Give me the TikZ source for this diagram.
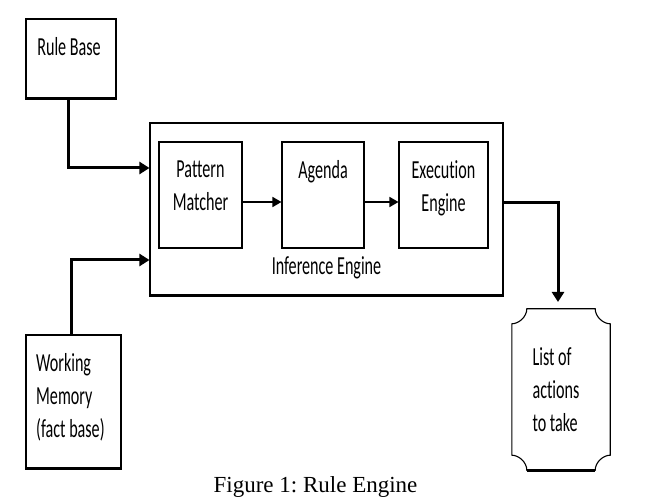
\documentclass[tikz,border=0pt]{standalone}
\usepackage{fontspec}
\setmainfont{Liberation Serif}
\newfontfamily\diafont[FakeStretch=0.62,Ligatures={NoCommon,NoContextual}]{Carlito}
\usetikzlibrary{arrows.meta}
\begin{document}
\begin{tikzpicture}[x=1pt,y=-1pt,
  box/.style={draw, line width=1.1pt, inner sep=0pt},
  heavy/.style={line width=2.6pt},
  medium/.style={line width=1.8pt},
  txt/.style={font=\diafont\fontsize{26}{33}\selectfont, inner sep=0pt},
  conn/.style={line width=3pt, -{Triangle[length=10pt,width=12pt]}},
  sconn/.style={line width=1.6pt, -{Triangle[length=9pt,width=10pt]}},
  captext/.style={font=\frenchspacing\fontsize{23}{26}\selectfont, inner sep=0pt}]
\useasboundingbox (0,0) rectangle (661,502);
% boxes
\node[box, minimum width=90pt, minimum height=79pt] (rb) at (71,58.5) {};
\node[box, minimum width=353pt, minimum height=172pt] (ie) at (326.5,209) {};
\node[box, minimum width=83pt, minimum height=106pt] (pm) at (200.5,195) {};
\node[box, minimum width=82pt, minimum height=106pt] (ag) at (323,195) {};
\node[box, minimum width=89pt, minimum height=106pt] (ex) at (443.5,195) {};
\node[box, minimum width=95pt, minimum height=133pt] (wm) at (73.5,401.5) {};
\node[inner sep=0pt, minimum width=98pt, minimum height=161pt] (la) at (561,389.5) {};
% thicker right/bottom edges
\draw[heavy] (rb.south west) -- (rb.south east);
\draw[medium] (rb.south east) -- (rb.north east);
\draw[heavy] (ie.south west) -- (ie.south east);
\draw[medium] (ie.south east) -- (ie.north east);
\draw[heavy] (wm.south west) -- (wm.south east);
\draw[medium] (wm.south east) -- (wm.north east);
\foreach \b in {pm,ag,ex}{\draw[medium] (\b.south west) -- (\b.south east);}
% list shape
\draw[line width=1.1pt] ([xshift=15pt]la.north west) -- ([xshift=-15pt]la.north east)
  .. controls ([xshift=-15pt,yshift=-8pt]la.north east) and ([xshift=-7pt,yshift=-15pt]la.north east) .. ([yshift=-15pt]la.north east)
  -- ([yshift=15pt]la.south east)
  .. controls ([xshift=-7pt,yshift=15pt]la.south east) and ([xshift=-15pt,yshift=8pt]la.south east) .. ([xshift=-15pt]la.south east)
  -- ([xshift=15pt]la.south west)
  .. controls ([xshift=15pt,yshift=8pt]la.south west) and ([xshift=7pt,yshift=15pt]la.south west) .. ([yshift=15pt]la.south west)
  -- ([yshift=-15pt]la.north west)
  .. controls ([xshift=7pt,yshift=-15pt]la.north west) and ([xshift=15pt,yshift=-8pt]la.north west) .. cycle;
\draw[heavy] ([xshift=15pt]la.south west) -- ([xshift=-15pt]la.south east);
% texts
\node[txt, anchor=north] (rbt) at (69,37) {Rule Base};
\node[txt, anchor=north, align=center] (pmt) at (200.5,161) {Pattern\\Matcher};
\node[txt, anchor=north] (agt) at (323,160) {Agenda};
\node[txt, anchor=north, align=center] (ext) at (443.5,160) {Execut\kern0pt ion\\Engine};
\node[txt] (iet) at (326.5,268) {Inference Engine};
\node[txt, anchor=north west, align=left] (wmt) at (36,353) {Working\\Memory\\(fact base)};
\node[txt, align=left] (lat) at (556,390) {List of\\act\kern0pt ions\\to take};
\node[captext] (caption) at (315.5,487) {Figure 1: Rule Engine};
% connectors
\draw[conn] ([xshift=-3pt]rb.south) |- ([yshift=41pt]ie.west);
\draw[conn] ([xshift=-2.5pt]wm.north) |- ([yshift=-51pt]ie.west);
\draw[sconn] (pm.east |- 0,202) -- (ag.west |- 0,202);
\draw[sconn] (ag.east |- 0,202) -- (ex.west |- 0,202);
\coordinate (lt) at (558,302);
\draw[conn] (ie.east |- 0,203) -| (lt);
\end{tikzpicture}
\end{document}
